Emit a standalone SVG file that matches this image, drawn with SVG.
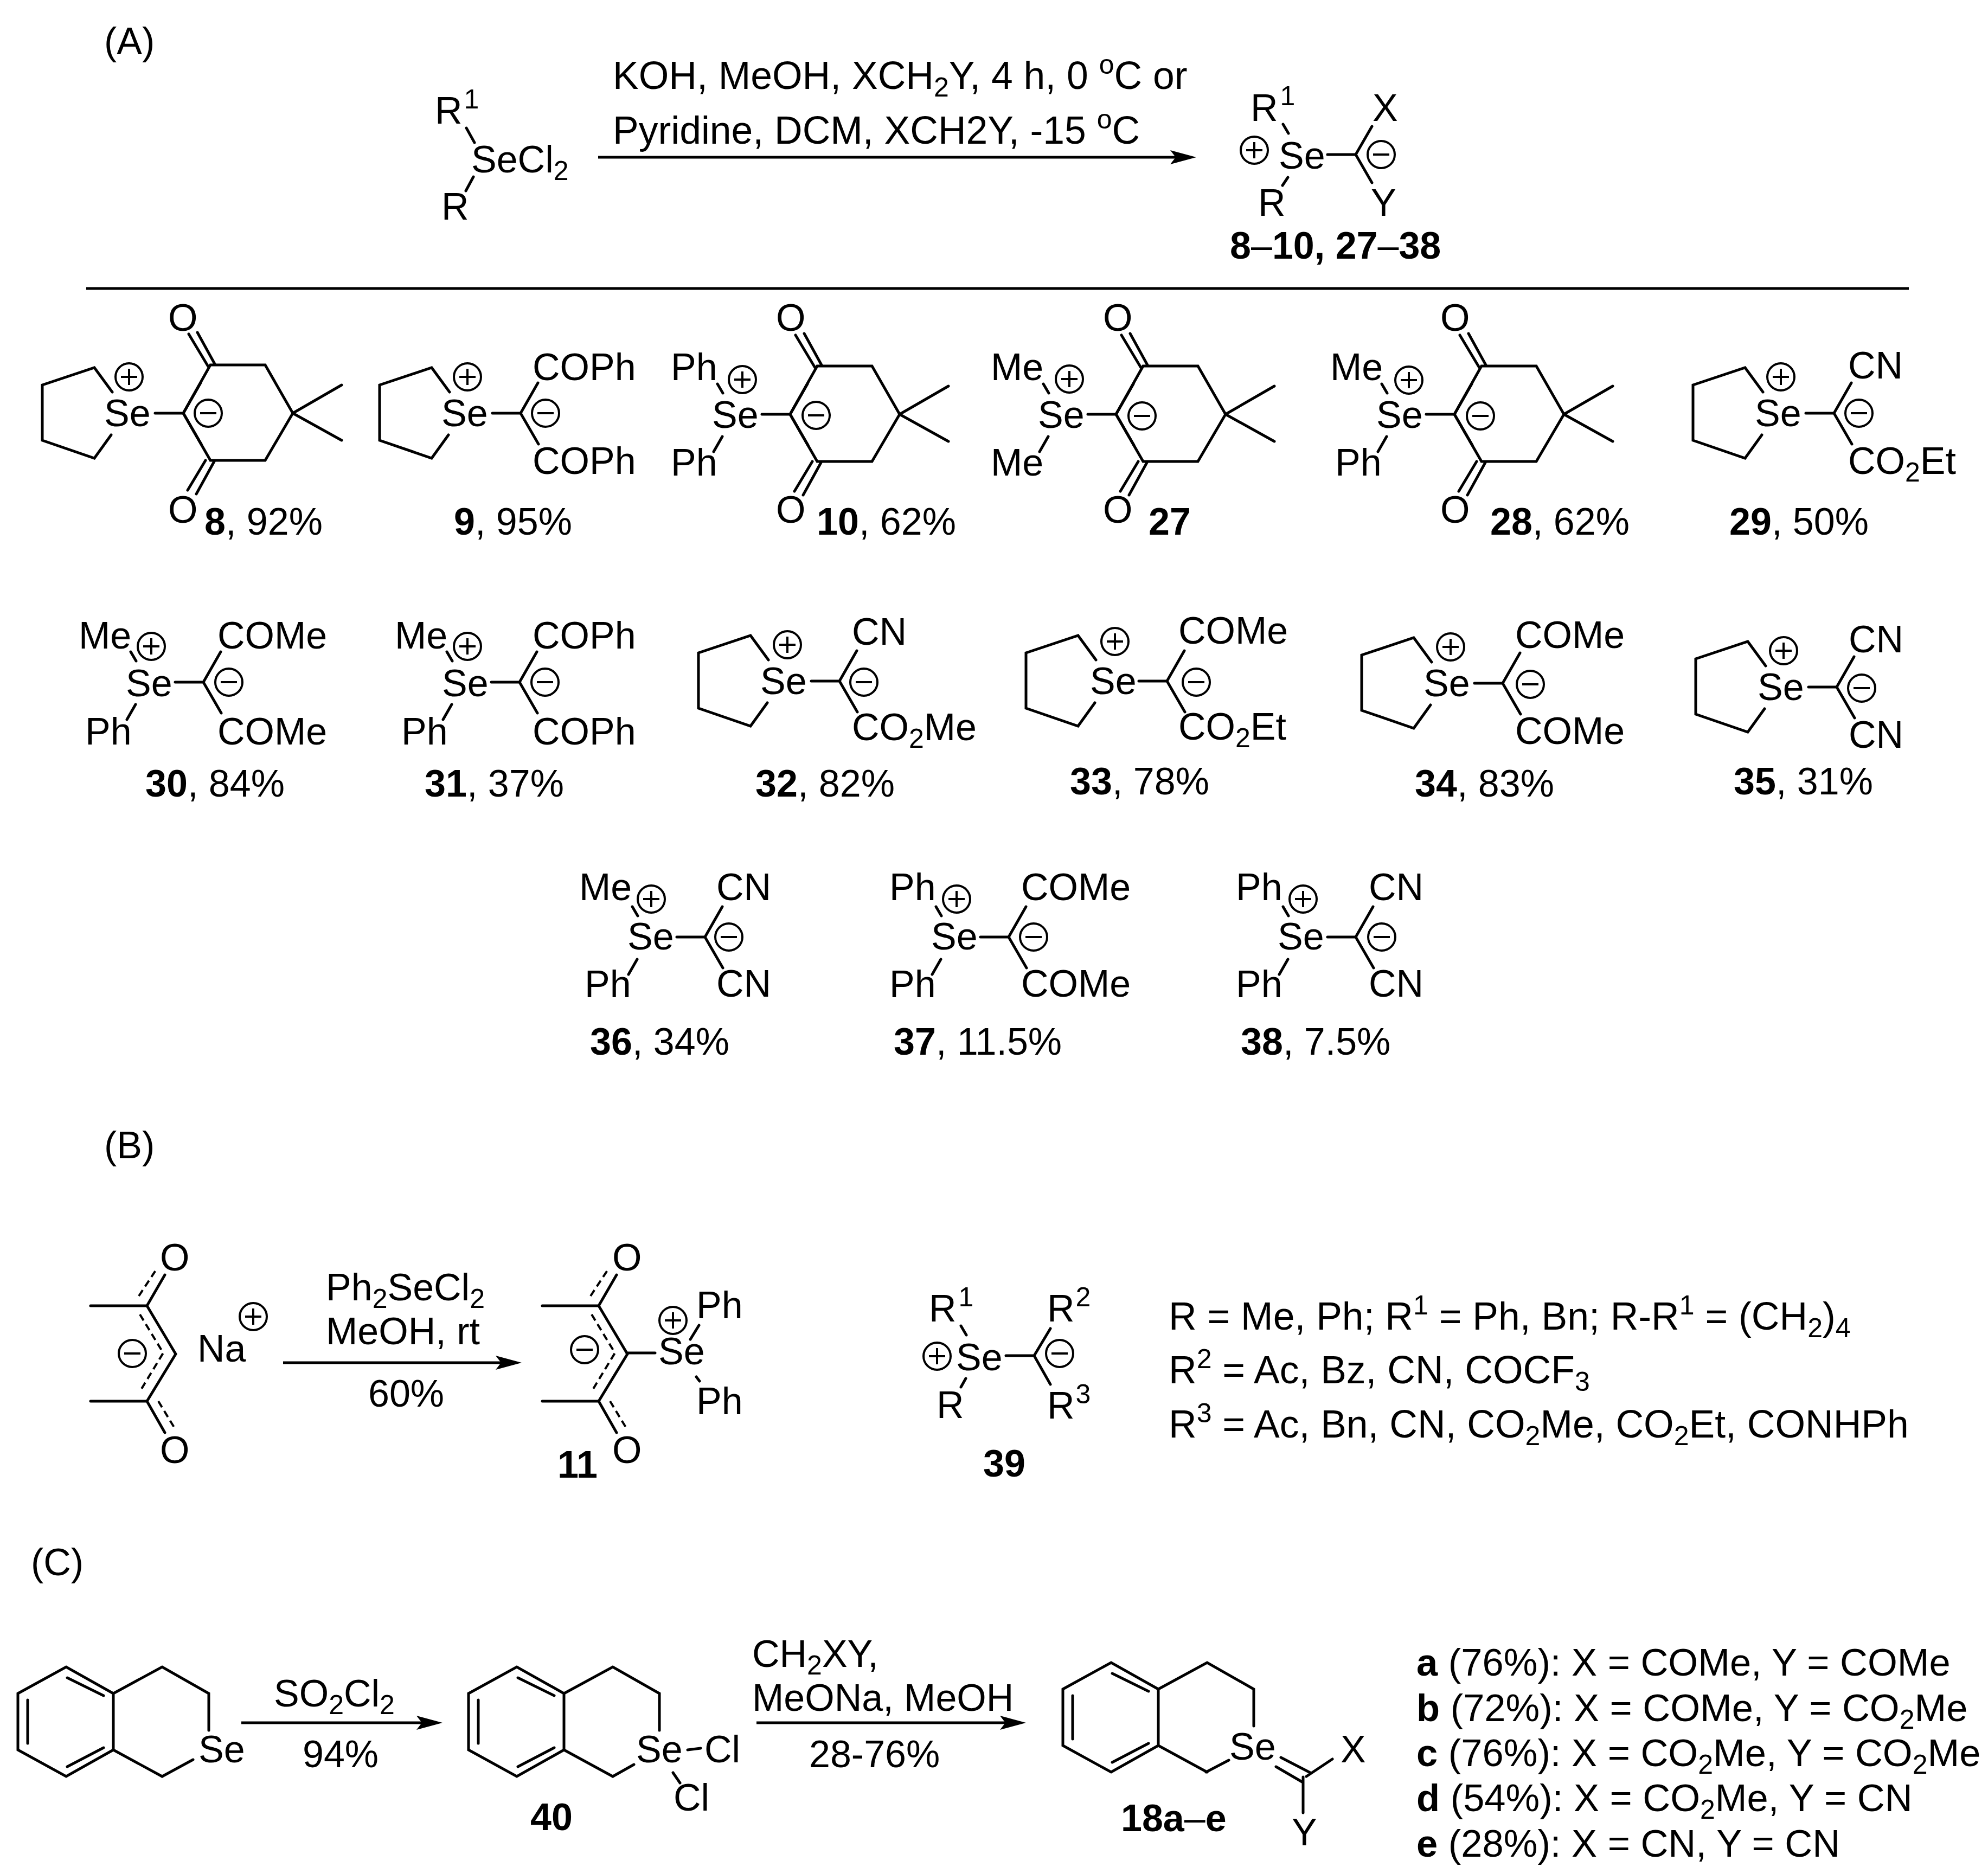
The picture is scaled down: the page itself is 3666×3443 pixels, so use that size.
<svg xmlns="http://www.w3.org/2000/svg" width="3666" height="3443" viewBox="0 0 3666 3443">
<style>
.t{font-family:"Liberation Sans",Arial,sans-serif;font-size:70px;fill:#000}
.w{font-size:71.5px}
.k{font-size:70.5px}
.b{font-weight:bold}
.s{font-size:50px}
.l{fill:none;stroke:#000;stroke-width:5;stroke-linecap:round;stroke-linejoin:miter}
.c{fill:none;stroke:#000;stroke-width:4}
.d{fill:none;stroke:#000;stroke-width:4;stroke-dasharray:13 8}
.a{fill:none;stroke:#000;stroke-width:5}
</style>
<defs>
<g id="plus"><circle class="c" r="25"/><path class="c" d="M-15,0H15M0,-15V15"/></g>
<g id="minus"><circle class="c" r="25"/><path class="c" d="M-15,0H15"/></g>
<path id="thio" class="l" d="M-131,-39L-164,-84L-260,-52V50L-164,83L-133,40"/>
<path id="dim" class="l" d="M0,0L50,-89H151L202,0L151,87H50ZM202,0L292,-52M202,0L292,50M10,-146L46,-86M26,-149L59,-89M8,142L41,87M24,149L57,89"/>
<path id="mal" class="l" d="M-52,0H0L32,-56M0,0L33,57"/>
<path id="acy" class="l" d="M-134,-56L-124,-39M-125,41L-141,69"/>
<path id="benzo" class="l" d="M0,49L89,0L176,49V153L89,202L0,153ZM18,61V141M91,20L158,53M91,184L158,149M176,49L266,0L352,49V117M176,153L266,202"/>
<g id="acac"><path class="l" d="M0,0H104L157,89L104,176H0M104,0L137,-57M104,176L137,234"/><path class="d" d="M89,-18L120,-65M91,16L134,87L91,158M125,176L154,224"/></g>
<marker id="ah" markerUnits="userSpaceOnUse" markerWidth="52" markerHeight="32" refX="12" refY="16" orient="auto"><path d="M2,3L50,16L2,29L12,16Z"/></marker>
</defs>

<g id="connectors">
<line class="a" x1="1103" y1="290" x2="2168" y2="290" marker-end="url(#ah)"/>
<line class="a" x1="159" y1="532" x2="3520" y2="532"/>
<line class="a" x1="522" y1="2513" x2="924" y2="2513" marker-end="url(#ah)"/>
<line class="a" x1="445" y1="3177" x2="778" y2="3177" marker-end="url(#ah)"/>
<line class="a" x1="1395" y1="3177" x2="1854" y2="3177" marker-end="url(#ah)"/>
</g>

<g id="labels">
<text class="t" x="192" y="100">(A)</text>
<text class="t" x="192" y="2136">(B)</text>
<text class="t" x="57" y="2905">(C)</text>
</g>

<g id="reagent">
<text class="t" x="802" y="228">R<tspan class="s" dx="3" dy="-28">1</tspan></text>
<path class="l" d="M860,236L875,263M873,326L859,352"/>
<text class="t" x="869" y="318">SeCl<tspan class="s" dy="14">2</tspan></text>
<text class="t" x="814" y="405">R</text>
</g>
<g id="conditions-a">
<text class="t w" x="1130" y="164">KOH, MeOH, XCH<tspan class="s" dy="14">2</tspan><tspan dy="-14">Y, 4 h, 0 </tspan><tspan class="s" dy="-28">o</tspan><tspan dy="28">C or</tspan></text>
<text class="t w" x="1130" y="265">Pyridine, DCM, XCH2Y, -15 <tspan class="s" dy="-28">o</tspan><tspan dy="28">C</tspan></text>
</g>
<g id="product-a">
<path class="l" d="M2448,285H2500L2530,233M2500,285L2530,337M2366,229L2376,246M2375,327L2365,342"/>
<text class="t" x="2306" y="223">R<tspan class="s" dx="4" dy="-29">1</tspan></text>
<text class="t" x="2358" y="311">Se</text>
<text class="t" x="2320" y="398">R</text>
<text class="t" x="2531" y="223">X</text>
<text class="t" x="2528" y="398">Y</text>
<use href="#plus" x="2313" y="277"/><use href="#minus" x="2547" y="285"/>
<text class="t b" x="2268" y="477">8<tspan font-weight="normal">–</tspan>10, 27<tspan font-weight="normal">–</tspan>38</text>
</g>

<g id="c8">
<use href="#thio" x="338" y="762"/><use href="#mal" x="338" y="762"/><use href="#dim" x="338" y="762"/>
<text class="t" x="192" y="786">Se</text><text class="t" x="310" y="610">O</text><text class="t" x="310" y="964">O</text>
<use href="#plus" x="238" y="695"/><use href="#minus" x="384" y="762"/>
<text class="t" x="377" y="986"><tspan class="b">8</tspan>, 92%</text>
</g>
<g id="c9">
<use href="#thio" x="960" y="762"/><use href="#mal" x="960" y="762"/>
<text class="t" x="814" y="786">Se</text><text class="t" x="982" y="701">COPh</text><text class="t" x="982" y="874">COPh</text>
<use href="#plus" x="862" y="695"/><use href="#minus" x="1006" y="762"/>
<text class="t" x="837" y="986"><tspan class="b">9</tspan>, 95%</text>
</g>
<g id="c10">
<use href="#acy" x="1457" y="764"/><use href="#mal" x="1457" y="764"/><use href="#dim" x="1457" y="764"/>
<text class="t" x="1237" y="701">Ph</text><text class="t" x="1237" y="877">Ph</text><text class="t" x="1313" y="789">Se</text>
<text class="t" x="1431" y="610">O</text><text class="t" x="1431" y="964">O</text>
<use href="#plus" x="1369" y="700"/><use href="#minus" x="1505" y="766"/>
<text class="t" x="1506" y="986"><tspan class="b">10</tspan>, 62%</text>
</g>
<g id="c27">
<use href="#acy" x="2058" y="764"/><use href="#mal" x="2058" y="764"/><use href="#dim" x="2058" y="764"/>
<text class="t" x="1827" y="701">Me</text><text class="t" x="1827" y="877">Me</text><text class="t" x="1914" y="789">Se</text>
<text class="t" x="2034" y="610">O</text><text class="t" x="2034" y="964">O</text>
<use href="#plus" x="1972" y="699"/><use href="#minus" x="2106" y="767"/>
<text class="t b" x="2118" y="986">27</text>
</g>
<g id="c28">
<use href="#acy" x="2682" y="764"/><use href="#mal" x="2682" y="764"/><use href="#dim" x="2682" y="764"/>
<text class="t" x="2453" y="701">Me</text><text class="t" x="2462" y="877">Ph</text><text class="t" x="2538" y="789">Se</text>
<text class="t" x="2656" y="610">O</text><text class="t" x="2656" y="964">O</text>
<use href="#plus" x="2598" y="701"/><use href="#minus" x="2730" y="767"/>
<text class="t" x="2748" y="986"><tspan class="b">28</tspan>, 62%</text>
</g>
<g id="c29">
<use href="#thio" x="3382" y="762"/><use href="#mal" x="3382" y="762"/>
<text class="t" x="3236" y="786">Se</text><text class="t" x="3408" y="698">CN</text><text class="t" x="3408" y="874">CO<tspan class="s" dy="14">2</tspan><tspan dy="-14">Et</tspan></text>
<use href="#plus" x="3284" y="695"/><use href="#minus" x="3428" y="762"/>
<text class="t" x="3189" y="986"><tspan class="b">29</tspan>, 50%</text>
</g>

<g id="c30">
<use href="#acy" x="375" y="1258"/><use href="#mal" x="375" y="1258"/>
<text class="t" x="145" y="1196">Me</text><text class="t" x="157" y="1373">Ph</text><text class="t" x="232" y="1284">Se</text>
<text class="t" x="401" y="1196">COMe</text><text class="t" x="401" y="1373">COMe</text>
<use href="#plus" x="279" y="1192"/><use href="#minus" x="422" y="1258"/>
<text class="t" x="268" y="1469"><tspan class="b">30</tspan>, 84%</text>
</g>
<g id="c31">
<use href="#acy" x="958" y="1258"/><use href="#mal" x="958" y="1258"/>
<text class="t" x="728" y="1196">Me</text><text class="t" x="740" y="1373">Ph</text><text class="t" x="815" y="1284">Se</text>
<text class="t" x="982" y="1196">COPh</text><text class="t" x="982" y="1373">COPh</text>
<use href="#plus" x="862" y="1192"/><use href="#minus" x="1005" y="1258"/>
<text class="t" x="783" y="1469"><tspan class="b">31</tspan>, 37%</text>
</g>
<g id="c32">
<use href="#thio" x="1548" y="1256"/><use href="#mal" x="1548" y="1256"/>
<text class="t" x="1402" y="1280">Se</text><text class="t" x="1571" y="1189">CN</text><text class="t" x="1571" y="1365">CO<tspan class="s" dy="14">2</tspan><tspan dy="-14">Me</tspan></text>
<use href="#plus" x="1452" y="1189"/><use href="#minus" x="1593" y="1258"/>
<text class="t" x="1393" y="1469"><tspan class="b">32</tspan>, 82%</text>
</g>
<g id="c33">
<use href="#thio" x="2152" y="1256"/><use href="#mal" x="2152" y="1256"/>
<text class="t" x="2010" y="1280">Se</text><text class="t" x="2173" y="1187">COMe</text><text class="t" x="2173" y="1364">CO<tspan class="s" dy="14">2</tspan><tspan dy="-14">Et</tspan></text>
<use href="#plus" x="2056" y="1183"/><use href="#minus" x="2206" y="1258"/>
<text class="t" x="1973" y="1465"><tspan class="b">33</tspan>, 78%</text>
</g>
<g id="c34">
<use href="#thio" x="2771" y="1260"/><use href="#mal" x="2771" y="1260"/>
<text class="t" x="2625" y="1284">Se</text><text class="t" x="2794" y="1195">COMe</text><text class="t" x="2794" y="1372">COMe</text>
<use href="#plus" x="2675" y="1193"/><use href="#minus" x="2822" y="1262"/>
<text class="t" x="2609" y="1469"><tspan class="b">34</tspan>, 83%</text>
</g>
<g id="c35">
<use href="#thio" x="3387" y="1267"/><use href="#mal" x="3387" y="1267"/>
<text class="t" x="3241" y="1291">Se</text><text class="t" x="3409" y="1203">CN</text><text class="t" x="3409" y="1379">CN</text>
<use href="#plus" x="3289" y="1200"/><use href="#minus" x="3433" y="1269"/>
<text class="t" x="3197" y="1465"><tspan class="b">35</tspan>, 31%</text>
</g>

<g id="c36">
<use href="#acy" x="1300" y="1728"/><use href="#mal" x="1300" y="1728"/>
<text class="t" x="1068" y="1660">Me</text><text class="t" x="1078" y="1839">Ph</text><text class="t" x="1157" y="1751">Se</text>
<text class="t" x="1321" y="1660">CN</text><text class="t" x="1321" y="1838">CN</text>
<use href="#plus" x="1201" y="1658"/><use href="#minus" x="1344" y="1728"/>
<text class="t" x="1088" y="1945"><tspan class="b">36</tspan>, 34%</text>
</g>
<g id="c37">
<use href="#acy" x="1860" y="1728"/><use href="#mal" x="1860" y="1728"/>
<text class="t" x="1640" y="1660">Ph</text><text class="t" x="1640" y="1839">Ph</text><text class="t" x="1717" y="1751">Se</text>
<text class="t" x="1883" y="1660">COMe</text><text class="t" x="1883" y="1838">COMe</text>
<use href="#plus" x="1764" y="1658"/><use href="#minus" x="1906" y="1728"/>
<text class="t" x="1648" y="1945"><tspan class="b">37</tspan>, 11.5%</text>
</g>
<g id="c38">
<use href="#acy" x="2500" y="1728"/><use href="#mal" x="2500" y="1728"/>
<text class="t" x="2279" y="1660">Ph</text><text class="t" x="2279" y="1839">Ph</text><text class="t" x="2356" y="1751">Se</text>
<text class="t" x="2524" y="1660">CN</text><text class="t" x="2524" y="1838">CN</text>
<use href="#plus" x="2403" y="1658"/><use href="#minus" x="2548" y="1728"/>
<text class="t" x="2288" y="1945"><tspan class="b">38</tspan>, 7.5%</text>
</g>

<g id="acac-na">
<use href="#acac" x="167" y="2408"/>
<text class="t" x="295" y="2343">O</text><text class="t" x="295" y="2698">O</text><text class="t" x="364" y="2511">Na</text>
<use href="#minus" x="244" y="2496"/><use href="#plus" x="467" y="2428"/>
</g>
<g id="conditions-b">
<text class="t" x="601" y="2398">Ph<tspan class="s" dy="14">2</tspan><tspan dy="-14">SeCl</tspan><tspan class="s" dy="14">2</tspan></text>
<text class="t" x="601" y="2479">MeOH, rt</text>
<text class="t" x="679" y="2594">60%</text>
</g>
<g id="c11">
<use href="#acac" x="1000" y="2408"/>
<path class="l" d="M1156,2495H1208M1273,2470L1289,2444M1284,2539L1290,2547"/>
<text class="t" x="1129" y="2343">O</text><text class="t" x="1129" y="2698">O</text><text class="t" x="1214" y="2516">Se</text>
<text class="t" x="1284" y="2431">Ph</text><text class="t" x="1284" y="2608">Ph</text>
<use href="#plus" x="1241" y="2435"/><use href="#minus" x="1078" y="2489"/>
<text class="t b" x="1028" y="2725">11</text>
</g>
<g id="c39">
<path class="l" d="M1855,2500H1907L1937,2450M1907,2500L1937,2553M1772,2445L1782,2462M1781,2542L1772,2558"/>
<text class="t" x="1713" y="2437">R<tspan class="s" dx="4" dy="-28">1</tspan></text><text class="t" x="1727" y="2615">R</text><text class="t" x="1763" y="2527">Se</text>
<text class="t" x="1931" y="2437">R<tspan class="s" dx="2" dy="-28">2</tspan></text><text class="t" x="1931" y="2616">R<tspan class="s" dx="2" dy="-28">3</tspan></text>
<use href="#plus" x="1728" y="2501"/><use href="#minus" x="1954" y="2496"/>
<text class="t b" x="1813" y="2723">39</text>
</g>
<g id="definitions-b">
<text class="t w" x="2155" y="2452">R = Me, Ph; R<tspan class="s" dy="-28">1</tspan><tspan dy="28"> = Ph, Bn; R-R</tspan><tspan class="s" dy="-28">1</tspan><tspan dy="28"> = (CH</tspan><tspan class="s" dy="14">2</tspan><tspan dy="-14">)</tspan><tspan class="s" dy="14">4</tspan></text>
<text class="t w" x="2155" y="2551">R<tspan class="s" dy="-28">2</tspan><tspan dy="28"> = Ac, Bz, CN, COCF</tspan><tspan class="s" dy="14">3</tspan></text>
<text class="t w" x="2155" y="2651">R<tspan class="s" dy="-28">3</tspan><tspan dy="28"> = Ac, Bn, CN, CO</tspan><tspan class="s" dy="14">2</tspan><tspan dy="-14">Me, CO</tspan><tspan class="s" dy="14">2</tspan><tspan dy="-14">Et, CONHPh</tspan></text>
</g>

<g id="selenochroman">
<use href="#benzo" x="33" y="3074"/>
<path class="l" d="M299,3276L356,3245"/>
<text class="t" x="366" y="3250">Se</text>
</g>
<g id="conditions-c1">
<text class="t" x="505" y="3147">SO<tspan class="s" dy="14">2</tspan><tspan dy="-14">Cl</tspan><tspan class="s" dy="14">2</tspan></text>
<text class="t" x="558" y="3259">94%</text>
</g>
<g id="c40">
<use href="#benzo" x="864" y="3074"/>
<path class="l" d="M1130,3276L1169,3254M1268,3227L1292,3224M1241,3269L1254,3288"/>
<text class="t" x="1173" y="3250">Se</text><text class="t" x="1299" y="3250">Cl</text><text class="t" x="1242" y="3339">Cl</text>
<text class="t b" x="978" y="3375">40</text>
</g>
<g id="conditions-c2">
<text class="t" x="1387" y="3074">CH<tspan class="s" dy="14">2</tspan><tspan dy="-14">XY,</tspan></text>
<text class="t" x="1387" y="3155">MeONa, MeOH</text>
<text class="t" x="1492" y="3259">28-76%</text>
</g>
<g id="c18">
<use href="#benzo" x="1960" y="3066"/>
<path class="l" d="M2224,3268L2266,3246M2409,3276L2457,3244M2362,3241L2418,3270M2353,3258L2401,3286M2403,3277V3343"/>
<text class="t" x="2267" y="3245">Se</text><text class="t" x="2472" y="3250">X</text><text class="t" x="2382" y="3403">Y</text>
<text class="t b" x="2067" y="3377">18a<tspan font-weight="normal">–</tspan>e</text>
</g>
<g id="key-c">
<text class="t k" x="2612" y="3090"><tspan class="b">a</tspan> (76%): X = COMe, Y = COMe</text>
<text class="t k" x="2612" y="3174"><tspan class="b">b</tspan> (72%): X = COMe, Y = CO<tspan class="s" dy="14">2</tspan><tspan dy="-14">Me</tspan></text>
<text class="t k" x="2612" y="3257"><tspan class="b">c</tspan> (76%): X = CO<tspan class="s" dy="14">2</tspan><tspan dy="-14">Me, Y = CO</tspan><tspan class="s" dy="14">2</tspan><tspan dy="-14">Me</tspan></text>
<text class="t k" x="2612" y="3340"><tspan class="b">d</tspan> (54%): X = CO<tspan class="s" dy="14">2</tspan><tspan dy="-14">Me, Y = CN</tspan></text>
<text class="t k" x="2612" y="3424"><tspan class="b">e</tspan> (28%): X = CN, Y = CN</text>
</g>
</svg>
